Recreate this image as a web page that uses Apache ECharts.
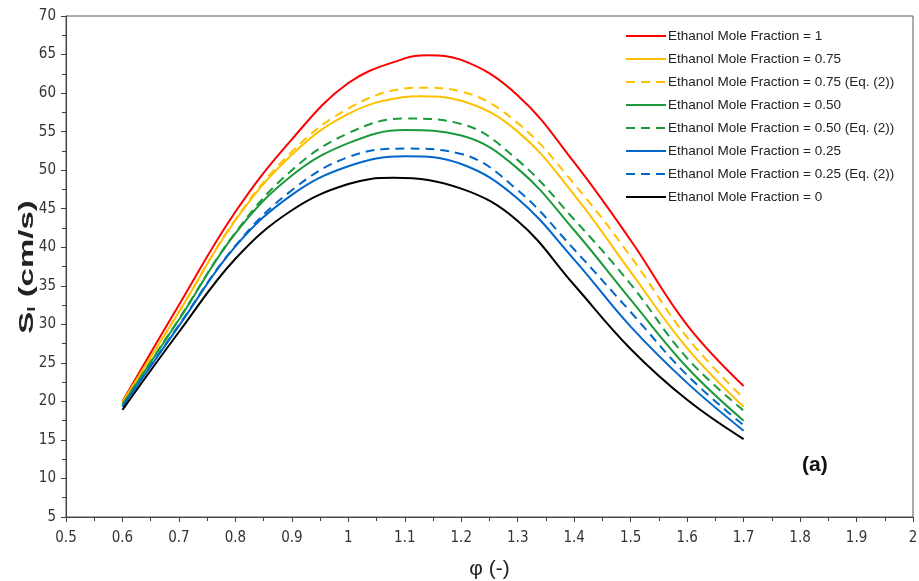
<!DOCTYPE html>
<html>
<head>
<meta charset="utf-8">
<script src="https://cdn.jsdelivr.net/npm/echarts@6/dist/echarts.min.js"></script>
<style>html,body{margin:0;padding:0;background:#fff}#c{width:919px;height:581px}</style>
</head>
<body>
<div id="c"></div>
<script>
var phi100 = [0.6, 0.7, 0.8, 0.9, 1.0, 1.1, 1.14, 1.2, 1.3, 1.4, 1.5, 1.6, 1.7];
var s100   = [20.0, 32.5, 44.6, 54.0, 61.3, 64.5, 64.9, 64.3, 59.7, 51.0, 40.9, 29.9, 22.0];
var phi075 = [0.6, 0.7, 0.8, 0.9, 1.0, 1.1, 1.125, 1.2, 1.3, 1.4, 1.5, 1.6, 1.7];
var s075   = [19.9, 31.6, 43.5, 52.0, 57.3, 59.5, 59.6, 59.0, 55.0, 46.8, 36.8, 26.9, 19.3];
var s075eq = [19.8, 31.6, 43.6, 52.4, 58.0, 60.6, 60.7, 60.2, 56.1, 48.2, 38.8, 28.3, 20.4];
var phiStd = [0.6, 0.7, 0.8, 0.9, 1.0, 1.1, 1.2, 1.3, 1.4, 1.5, 1.6, 1.7];
var s050   = [19.6, 30.6, 41.8, 49.3, 53.5, 55.2, 54.5, 50.2, 42.2, 33.2, 24.4, 17.5];
var s050eq = [19.6, 30.7, 41.9, 50.0, 54.8, 56.7, 56.0, 51.3, 43.6, 35.2, 25.6, 18.8];
var s025   = [19.3, 29.8, 40.1, 46.8, 50.5, 51.8, 50.8, 46.3, 38.4, 29.7, 22.4, 16.2];
var s025eq = [19.3, 29.9, 40.2, 47.4, 51.7, 52.8, 52.1, 47.4, 39.7, 31.6, 23.4, 16.9];
var phi000 = [0.6, 0.7, 0.8, 0.9, 1.0, 1.08, 1.2, 1.3, 1.4, 1.5, 1.6, 1.7];
var s000   = [18.9, 29.0, 38.5, 44.8, 48.2, 49.0, 47.6, 43.4, 35.1, 26.8, 20.2, 15.1];
var names = [
  'Ethanol Mole Fraction = 1',
  'Ethanol Mole Fraction = 0.75',
  'Ethanol Mole Fraction = 0.75 (Eq. (2))',
  'Ethanol Mole Fraction = 0.50',
  'Ethanol Mole Fraction = 0.50 (Eq. (2))',
  'Ethanol Mole Fraction = 0.25',
  'Ethanol Mole Fraction = 0.25 (Eq. (2))',
  'Ethanol Mole Fraction = 0'
];
var colors = ['#FF0000', '#FFC000', '#FFC000', '#1A9A3A', '#1A9A3A', '#0066CC', '#0066CC', '#000000'];
var dashed = [false, false, true, false, true, false, true, false];
var values = [s100, s075, s075eq, s050, s050eq, s025, s025eq, s000];
var xs = [phi100, phi075, phi075, phiStd, phiStd, phiStd, phiStd, phi000];

function pairs(x, v) { return x.map(function (p, i) { return [p, v[i]]; }); }

var series = values.map(function (v, k) {
  return {
    name: names[k], type: 'line', data: pairs(xs[k], v), smooth: 0.4, symbol: 'none',
    lineStyle: { color: colors[k], width: 2, type: dashed[k] ? [9, 6] : 'solid' },
    itemStyle: { color: colors[k] }
  };
});

var chart = echarts.init(document.getElementById('c'));
var font = 'Liberation Sans';
var narrow = '"DejaVu Sans Condensed", "Liberation Sans", sans-serif';
chart.setOption({
  animation: false,
  backgroundColor: '#fff',
  grid: { left: 66, right: 6, top: 16, bottom: 64, show: true, borderColor: '#595959', borderWidth: 1,
    containLabel: false, outerBoundsMode: 'none' },
  legend: {
    orient: 'vertical', left: 620, top: 24, itemWidth: 40, itemHeight: 14, itemGap: 9,
    itemStyle: { opacity: 0 },
    textStyle: { fontFamily: font, fontSize: 13.5, color: '#222', padding: [0, 0, 0, -3] },
    data: names
  },
  xAxis: {
    type: 'value', min: 0.5, max: 2, interval: 0.1,
    name: 'φ (-)', nameLocation: 'middle', nameGap: 42,
    nameTextStyle: { fontFamily: font, fontSize: 21, color: '#222' },
    axisLine: { lineStyle: { color: '#404040', width: 1 } },
    axisTick: { show: true, inside: false, length: 5, lineStyle: { color: '#404040' } },
    minorTick: { show: true, splitNumber: 2, length: 4, lineStyle: { color: '#404040' } },
    splitLine: { show: false },
    axisLabel: { fontFamily: narrow, fontSize: 15, color: '#333', margin: 14,
      formatter: function (v) { return String(Math.round(v * 10) / 10); } }
  },
  yAxis: {
    type: 'value', min: 5, max: 70, interval: 5,
    axisLine: { show: true, lineStyle: { color: '#404040', width: 1 } },
    axisTick: { show: true, inside: false, length: 5, lineStyle: { color: '#404040' } },
    minorTick: { show: true, splitNumber: 2, length: 4, lineStyle: { color: '#404040' } },
    splitLine: { show: false },
    axisLabel: { fontFamily: narrow, fontSize: 15, color: '#333', margin: 10 }
  },
  graphic: [{
    type: 'text', x: 27, y: 267, rotation: Math.PI / 2, scaleX: 1, scaleY: 0.62,
    style: {
      text: '{b|S}{s|l}{b| (cm/s)}', align: 'center', verticalAlign: 'middle',
      rich: {
        b: { font: 'bold 33px "Liberation Sans"', fill: '#222' },
        s: { font: 'bold 19px "Liberation Sans"', fill: '#222', verticalAlign: 'bottom', padding: [14, 0, 0, 0] }
      }
    }
  }, {
    type: 'text', left: 802, top: 455,
    style: { text: '(a)', font: 'bold 21px "Liberation Sans"', fill: '#111' }
  }],
  series: series
});
</script>
</body>
</html>
